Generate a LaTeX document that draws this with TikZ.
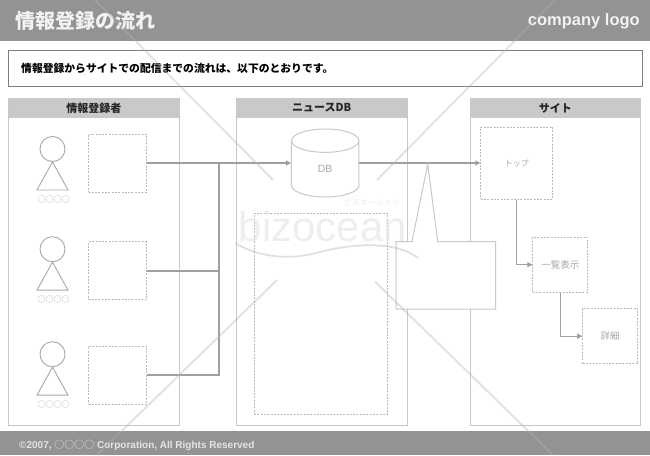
\documentclass[tikz,border=0pt]{standalone}
\usepackage{fontspec}
\setmainfont{Liberation Sans}
\newfontfamily\jpfont{Noto Sans CJK JP}
\usetikzlibrary{shapes.geometric, arrows.meta, positioning}
\definecolor{barcolor}{RGB}{147,147,147}
\definecolor{headcolor}{RGB}{201,201,201}
\definecolor{panelcolor}{RGB}{200,200,200}
\definecolor{framecolor}{RGB}{125,125,125}
\definecolor{flowcolor}{RGB}{160,160,160}
\definecolor{dashcolor}{RGB}{186,186,186}
\definecolor{inkcolor}{RGB}{168,168,168}
\definecolor{markcolor}{RGB}{179,179,179}
\definecolor{marktext}{RGB}{232,232,232}

\begin{document}
\begin{tikzpicture}[
    x=1pt, y=-1pt,
    panelbox/.style={draw=panelcolor, line width=1pt, fill=white, minimum width=170.5pt, minimum height=327pt, inner sep=0pt},
    panelhead/.style={fill=headcolor, minimum width=170.5pt, minimum height=20pt, inner sep=0pt, font=\jpfont\bfseries\fontsize{11}{12}\selectfont, text=black!85},
    itembox/.style={draw=dashcolor, line width=1pt, dash pattern=on 2pt off 1.3pt, fill=white, minimum width=#1pt, minimum height=#1pt, inner sep=0pt, font=\jpfont\fontsize{9.5}{11}\selectfont, text=inkcolor},
    headcircle/.style={circle, draw=inkcolor, line width=0.9pt, minimum size=25pt, inner sep=0pt},
    bodyline/.style={draw=inkcolor, line width=0.9pt},
    namelabel/.style={inner sep=0pt, font=\jpfont\fontsize{8}{9}\selectfont, text=inkcolor},
    flow/.style={draw=flowcolor, line width=1.8pt},
    arrow/.style={draw=flowcolor, line width=1.1pt, -{Triangle[length=5pt, width=5pt]}},
    markline/.style={draw=markcolor, line width=1.8pt, opacity=0.4}
]
    \useasboundingbox (0,0) rectangle (650,455);

    % Title and footer bars
    \node[fill=barcolor, minimum width=650pt, minimum height=41pt, inner sep=0pt] (titlebar) at (325,20.5) {};
    \node[fill=barcolor, minimum width=650pt, minimum height=24pt, inner sep=0pt] (footbar) at (325,443) {};
    \node[anchor=west, inner sep=0pt, text=white!95!black, font=\jpfont\bfseries\fontsize{20}{24}\selectfont] (title) at (15,21) {情報登録の流れ};
    \node[anchor=east, inner sep=0pt, text=white!95!black, font=\bfseries\fontsize{16.5}{18}\selectfont] (logo) at (640,21.5) {company logo};
    \node[anchor=west, inner sep=0pt, text=white!90!black, font=\bfseries\fontsize{10}{11}\selectfont] (copy) at (19,445) {©2007, {\jpfont\mdseries ○○○○} Corporation, All Rights Reserved};

    % Description
    \node[draw=framecolor, line width=1pt, minimum width=634pt, minimum height=36pt, inner sep=0pt] (descbox) at (325.3,68) {};
    \node[anchor=west, inner sep=0pt, text=black, font=\jpfont\bfseries\fontsize{10.8}{12}\selectfont] (desc) at (21,68.5) {情報登録からサイトでの配信までの流れは、以下のとおりです。};

    % Panels
    \node[panelbox] (senderpanel) at (93.8,261.5) {};
    \node[panelbox] (dbpanel) at (321.8,261.5) {};
    \node[panelbox] (sitepanel) at (555.3,261.5) {};
    \node[panelhead] (senderhead) at (93.8,108) {情報登録者};
    \node[panelhead] (dbhead) at (321.8,108) {ニュースDB};
    \node[panelhead] (sitehead) at (555.3,108) {サイト};

    % Senders
    \node[headcircle] (headone) at (52.5,149) {};
    \node[headcircle] (headtwo) at (52.5,249.2) {};
    \node[headcircle] (headthree) at (52.5,354.2) {};
    \draw[bodyline] (headone.south) -- ++(-15.5,28) -- ++(31,0) -- cycle;
    \draw[bodyline] (headtwo.south) -- ++(-15.5,28) -- ++(31,0) -- cycle;
    \draw[bodyline] (headthree.south) -- ++(-15.5,28) -- ++(31,0) -- cycle;
    \node[namelabel] (nameone) at (53.7,199.5) {○○○○};
    \node[namelabel] (nametwo) at (53.7,299.3) {○○○○};
    \node[namelabel] (namethree) at (53.7,404.5) {○○○○};
    \node[itembox=58] (senderone) at (117.5,163) {};
    \node[itembox=58] (sendertwo) at (117.5,270.8) {};
    \node[itembox=58] (senderthree) at (117.5,375.3) {};

    % News DB
    \node[cylinder, shape border rotate=90, aspect=1.6, anchor=shape center, draw=panelcolor, line width=1pt, fill=white, minimum width=67.5pt, minimum height=68pt, inner sep=0pt, font=\fontsize{10.5}{12}\selectfont, text=inkcolor] (db) at (325.2,163) {DB};
    \node[draw=dashcolor, line width=0.9pt, dash pattern=on 2pt off 1.3pt, minimum width=133pt, minimum height=201pt, inner sep=0pt] (dbarea) at (320.6,313.8) {};

    % Site
    \node[itembox=72, font=\jpfont\fontsize{8}{10}\selectfont] (top) at (516.8,163) {トップ};
    \node[itembox=55] (list) at (560.3,264.7) {一覧表示};
    \node[itembox=55] (detail) at (610.2,336.2) {詳細};

    % Connections
    \coordinate (busjoin) at (219,163);
    \draw[flow] (sendertwo.east) -| (busjoin);
    \draw[flow] (senderthree.east) -| (busjoin);
    \draw[arrow, line width=1.8pt] (senderone.east) -- (db.west |- senderone.east);
    \draw[arrow, line width=1.8pt] (db.east |- senderone.east) -- (top.west);
    \draw[arrow] (top.south) |- (list.west);
    \draw[arrow] (list.south) |- (detail.west);

    % Callout
    \draw[draw=panelcolor, line width=1pt, fill=white] (396,241.7) -- (412,241.7) -- (427.7,164) -- (437.7,241.7) -- (495.7,241.7) -- (495.7,309) -- (396,309) -- cycle;

    % Watermark
    \draw[markline] (95,0) -- (273,180);
    \draw[markline] (555,0) -- (377,180);
    \draw[markline] (277,280) -- (97,455);
    \draw[markline] (375,281.7) -- (553,455);
    \node[text=marktext, opacity=0.7, inner sep=0pt, font=\fontsize{42}{44}\selectfont] (markname) at (323,226) {bizocean};
    \node[text=marktext, opacity=0.8, inner sep=0pt, font=\jpfont\fontsize{8}{9}\selectfont] (markkana) at (372,202.5) {ビズオーシャン};
    \draw[markline] (235,243) .. controls (255,255) and (285,262) .. (320,252) .. controls (350,244) and (395,240) .. (418,258);
\end{tikzpicture}
\end{document}
